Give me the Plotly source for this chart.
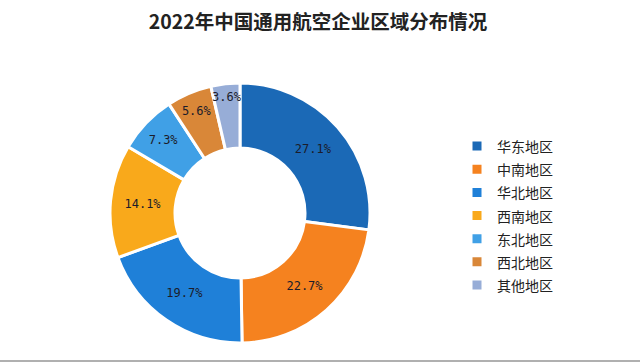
import plotly.graph_objects as go

regions = ["华东地区", "中南地区", "华北地区", "西南地区", "东北地区", "西北地区", "其他地区"]
shares = [27.1, 22.7, 19.7, 14.1, 7.3, 5.6, 3.6]
colors = ["#1b69b6", "#f5821f", "#1f80d8", "#f9a91b", "#40a0e6", "#d98738", "#97add7"]
pct_labels = [f"{v:.1f}%" for v in shares]
title_text = "2022年中国通用航空企业区域分布情况"

legend_names = [f'<span style="font-size:14px">{r}</span>' for r in regions]

fig = go.Figure(go.Pie(
    labels=legend_names,
    values=shares,
    text=pct_labels,
    textinfo="text",
    textposition="inside",
    insidetextorientation="horizontal",
    textfont=dict(family="DejaVu Sans Mono", size=12, color="#1c1c2a"),
    marker=dict(colors=colors, line=dict(color="white", width=3)),
    hole=0.5,
    sort=False,
    direction="clockwise",
    rotation=0,
    domain=dict(x=[110/640, 370/640], y=[20/363, 280/363]),
    hoverinfo="label+percent",
))

fig.update_layout(
    width=640, height=363,
    margin=dict(l=0, r=0, t=0, b=0),
    paper_bgcolor="white",
    plot_bgcolor="white",
    title=dict(text=f"<b>{title_text}</b>", x=318/640, xanchor="center",
               y=1 - 22/363, yanchor="middle",
               font=dict(family="Noto Sans CJK SC", size=19.5, color="#222222")),
    uniformtext=dict(minsize=12, mode="show"),
    legend=dict(x=457/640, xanchor="left", y=1 - 216/363, yanchor="middle",
                font=dict(family="Noto Sans CJK SC", size=15.5, color="#222222"),
                itemwidth=30, bgcolor="rgba(0,0,0,0)"),
    shapes=[dict(type="line", xref="paper", yref="paper", x0=0, x1=1,
                 y0=2/363, y1=2/363, line=dict(color="#b0b0b0", width=2))],
)

fig.write_html("out.html", config={"displayModeBar": False},
               post_script="document.body.style.margin='0';document.body.style.overflow='hidden';")
